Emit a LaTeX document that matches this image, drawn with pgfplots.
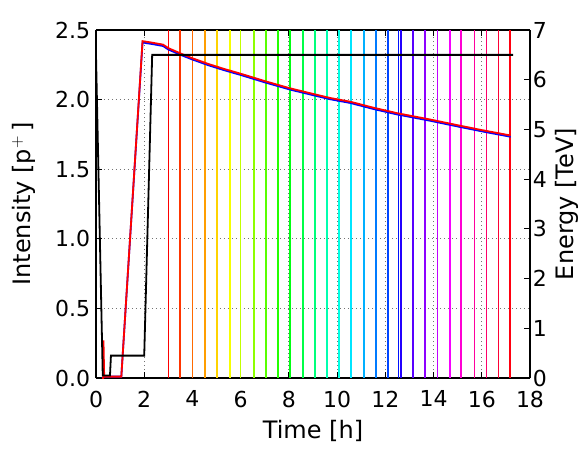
\documentclass[border=0pt]{standalone}
\usepackage{fontspec}
\setmainfont{DejaVu Sans}
\usepackage{pgfplots}
\pgfplotsset{compat=1.18}
% rainbow colours (hsv), hue = i/29, given as rgb
\definecolor{lcA}{rgb}{1,0,0}
\definecolor{lcB}{rgb}{1,0.207,0}
\definecolor{lcC}{rgb}{1,0.414,0}
\definecolor{lcD}{rgb}{1,0.621,0}
\definecolor{lcE}{rgb}{1,0.828,0}
\definecolor{lcF}{rgb}{0.966,1,0}
\definecolor{lcG}{rgb}{0.759,1,0}
\definecolor{lcH}{rgb}{0.552,1,0}
\definecolor{lcI}{rgb}{0.345,1,0}
\definecolor{lcJ}{rgb}{0.138,1,0}
\definecolor{lcK}{rgb}{0,1,0.069}
\definecolor{lcL}{rgb}{0,1,0.276}
\definecolor{lcM}{rgb}{0,1,0.483}
\definecolor{lcN}{rgb}{0,1,0.690}
\definecolor{lcO}{rgb}{0,1,0.897}
\definecolor{lcP}{rgb}{0,0.897,1}
\definecolor{lcQ}{rgb}{0,0.690,1}
\definecolor{lcR}{rgb}{0,0.483,1}
\definecolor{lcS}{rgb}{0,0.276,1}
\definecolor{lcT}{rgb}{0,0.069,1}
\definecolor{lcU}{rgb}{0.138,0,1}
\definecolor{lcV}{rgb}{0.345,0,1}
\definecolor{lcW}{rgb}{0.552,0,1}
\definecolor{lcX}{rgb}{0.759,0,1}
\definecolor{lcY}{rgb}{0.966,0,1}
\definecolor{lcZ}{rgb}{1,0,0.828}
\definecolor{lcAA}{rgb}{1,0,0.621}
\definecolor{lcAB}{rgb}{1,0,0.414}
\definecolor{lcAC}{rgb}{1,0,0.207}
\definecolor{lcAD}{rgb}{1,0,0.06}
\pgfplotsset{
  every axis/.append style={font=\fontsize{24}{28}\selectfont, line width=1.2pt},
  every tick label/.append style={font=\fontsize{22}{26}\selectfont},
  vl/.style={line width=1.6pt, forget plot},
}
\begin{document}
\begin{tikzpicture}
\useasboundingbox (-96pt,-70pt) rectangle (488pt,378pt);
\begin{axis}[
  at={(0pt,0pt)}, anchor=south west,
  scale only axis, width=434pt, height=348pt,
  xmin=0, xmax=18, ymin=0, ymax=2.5,
  xtick={0,2,...,18}, ytick={0,0.5,1,1.5,2,2.5},
  axis y line*=left,
  tick align=inside, major tick length=6pt,
  tick style={line width=0.9pt, black},
  /pgf/number format/assume math mode=true,
  yticklabel style={xshift=-2pt, /pgf/number format/.cd, fixed, fixed zerofill, precision=1},
  xticklabel style={yshift=-9pt},
  scaled y ticks=false,
  grid=major,
  major grid style={line width=0.8pt, black!55, dash pattern=on 1pt off 3pt},
  xlabel={Time [h]}, ylabel={Intensity [p$^{+}$\,]},
  xlabel style={yshift=-5pt},
  ylabel style={yshift=12pt},
  clip=true,
]
\addplot[vl, lcA] coordinates {(3.00,0) (3.00,2.5)};
\addplot[vl, lcB] coordinates {(3.49,0) (3.49,2.5)};
\addplot[vl, lcC] coordinates {(4.00,0) (4.00,2.5)};
\addplot[vl, lcD] coordinates {(4.53,0) (4.53,2.5)};
\addplot[vl, lcE] coordinates {(5.02,0) (5.02,2.5)};
\addplot[vl, lcF] coordinates {(5.55,0) (5.55,2.5)};
\addplot[vl, lcG] coordinates {(5.99,0) (5.99,2.5)};
\addplot[vl, lcH] coordinates {(6.55,0) (6.55,2.5)};
\addplot[vl, lcI] coordinates {(7.06,0) (7.06,2.5)};
\addplot[vl, lcJ] coordinates {(7.55,0) (7.55,2.5)};
\addplot[vl, lcK] coordinates {(8.05,0) (8.05,2.5)};
\addplot[vl, lcL] coordinates {(8.58,0) (8.58,2.5)};
\addplot[vl, lcM] coordinates {(9.09,0) (9.09,2.5)};
\addplot[vl, lcN] coordinates {(9.59,0) (9.59,2.5)};
\addplot[vl, lcO] coordinates {(10.09,0) (10.09,2.5)};
\addplot[vl, lcP] coordinates {(10.58,0) (10.58,2.5)};
\addplot[vl, lcQ] coordinates {(11.12,0) (11.12,2.5)};
\addplot[vl, lcR] coordinates {(11.61,0) (11.61,2.5)};
\addplot[vl, lcS] coordinates {(12.10,0) (12.10,2.5)};
\addplot[vl, lcT] coordinates {(12.55,0) (12.55,2.5)};
\addplot[vl, lcU] coordinates {(12.66,0) (12.66,2.5)};
\addplot[vl, lcV] coordinates {(13.14,0) (13.14,2.5)};
\addplot[vl, lcW] coordinates {(13.65,0) (13.65,2.5)};
\addplot[vl, lcX] coordinates {(14.16,0) (14.16,2.5)};
\addplot[vl, lcY] coordinates {(14.68,0) (14.68,2.5)};
\addplot[vl, lcZ] coordinates {(15.15,0) (15.15,2.5)};
\addplot[vl, lcAA] coordinates {(15.69,0) (15.69,2.5)};
\addplot[vl, lcAB] coordinates {(16.19,0) (16.19,2.5)};
\addplot[vl, lcAC] coordinates {(16.69,0) (16.69,2.5)};
\addplot[vl, lcAD] coordinates {(17.18,0) (17.18,2.5)};
% intensity, blue
\addplot[blue, line width=1.8pt] coordinates {
(0.25,0.0) (0.35,0.01) (1.05,0.01) (1.93,2.41) (2.3,2.40) (2.78,2.385) (3.0,2.36)
(3.5,2.322) (4.0,2.288) (4.66,2.247) (5.3,2.212) (6.0,2.177) (7.0,2.124)
(8.05,2.072) (9.0,2.032) (9.7,2.003) (10.54,1.976) (11.5,1.933) (12.5,1.893)
(13.86,1.848) (15.0,1.807) (16.0,1.772) (17.2,1.733)};
% intensity, red
\addplot[red, line width=1.8pt] coordinates {
(0.25,0.0) (0.30,0.0) (0.31,0.27) (0.34,0.01) (1.05,0.01) (1.93,2.42) (2.3,2.41)
(2.78,2.395) (3.0,2.37) (3.5,2.332) (4.0,2.297) (4.66,2.256) (5.3,2.221)
(6.0,2.186) (7.0,2.133) (8.05,2.081) (9.0,2.041) (9.7,2.012) (10.54,1.985)
(11.5,1.942) (12.5,1.902) (13.86,1.857) (15.0,1.816) (16.0,1.781) (17.2,1.742)};
\node[anchor=south west, inner sep=0pt, font=\fontsize{22}{26}\selectfont] at (rel axis cs:-0.007,1.012) {1e14};
\end{axis}
\begin{axis}[
  at={(0pt,0pt)}, anchor=south west,
  scale only axis, width=434pt, height=348pt,
  xmin=0, xmax=18, ymin=0, ymax=7,
  ytick={0,1,...,7},
  axis x line=none,
  axis y line*=right,
  tick align=inside, major tick length=6pt,
  tick style={line width=0.9pt, black},
  /pgf/number format/assume math mode=true,
  yticklabel style={xshift=-1pt},
  ylabel={Energy [TeV]},
  ylabel style={yshift=-1pt},
]
\addplot[black, line width=1.8pt] coordinates {
(0,6.5) (0.28,0.05) (0.58,0.05) (0.62,0.45) (2.0,0.45) (2.33,6.5) (17.3,6.5)};
\end{axis}
\end{tikzpicture}
\end{document}
